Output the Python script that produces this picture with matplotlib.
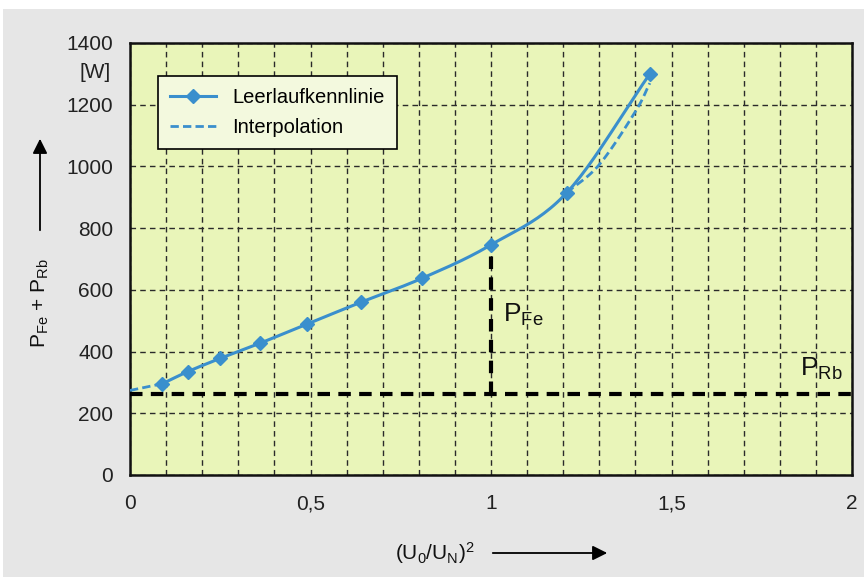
import numpy as np
import matplotlib
matplotlib.use("Agg")
import matplotlib.pyplot as plt
from matplotlib.patches import Rectangle
from matplotlib.lines import Line2D

plt.rcParams['font.family'] = ['Liberation Sans', 'DejaVu Sans']
plt.rcParams['mathtext.default'] = 'regular'

# ---- data ----
x_meas = [0.09, 0.16, 0.25, 0.36, 0.49, 0.64, 0.81, 1.00, 1.21, 1.44]
y_meas = [296, 335, 378, 427, 489, 560, 638, 746, 915, 1300]
interp_low_x = [0.0, 0.09]
interp_low_y = [274, 296]
interp_high_x = [1.21, 1.30, 1.40, 1.44]
interp_high_y = [915, 1006, 1178, 1270]
p_rb = 262
x_ticks = [0, 0.5, 1, 1.5, 2]
x_ticklabels = ['0', '0,5', '1', '1,5', '2']
y_ticks = [0, 200, 400, 600, 800, 1000, 1200, 1400]
legend_labels = ['Leerlaufkennlinie', 'Interpolation']

BLUE = '#3a8fcd'


def catmull_rom(xs, ys, n=24):
    xs = np.asarray(xs, float)
    ys = np.asarray(ys, float)
    P = np.column_stack([xs, ys])
    P = np.vstack([2 * P[0] - P[1], P, 2 * P[-1] - P[-2]])
    out = []
    t = np.linspace(0, 1, n, endpoint=False)[:, None]
    for i in range(1, len(P) - 2):
        p0, p1, p2, p3 = P[i - 1], P[i], P[i + 1], P[i + 2]
        seg = 0.5 * ((2 * p1) + (-p0 + p2) * t + (2 * p0 - 5 * p1 + 4 * p2 - p3) * t ** 2
                     + (-p0 + 3 * p1 - 3 * p2 + p3) * t ** 3)
        out.append(seg)
    out.append(P[-2][None, :])
    out = np.vstack(out)
    return out[:, 0], out[:, 1]


W, H = 867, 577
fig = plt.figure(figsize=(W / 100, H / 100), dpi=100, facecolor='white')
fig.patches.append(Rectangle((3 / W, 0), (864 - 3) / W, (577 - 9) / H,
                             transform=fig.transFigure, facecolor='#e6e6e6',
                             edgecolor='none', zorder=-10))

ax = fig.add_axes([130 / W, 1 - 475 / H, (852 - 130) / W, (475 - 43) / H])
ax.set_facecolor('#e9f5b9')
ax.set_xlim(0, 2)
ax.set_ylim(0, 1400)

ax.set_xticks(x_ticks)
ax.set_xticklabels(x_ticklabels)
ax.set_xticks(np.arange(0, 2.0001, 0.1), minor=True)
ax.set_yticks(y_ticks)
ax.tick_params(axis='both', which='both', length=0, labelsize=15, colors='#222222')
ax.tick_params(axis='x', pad=14)
ax.tick_params(axis='y', pad=12)

ax.grid(True, which='both', axis='x', color='#2a2a2a', linestyle=(0, (4, 3)), lw=1.0)
ax.grid(True, which='major', axis='y', color='#2a2a2a', linestyle=(0, (4, 3)), lw=1.0)
ax.set_axisbelow(True)
for s in ax.spines.values():
    s.set_linewidth(1.8)
    s.set_color('#111111')

# P_Rb and P_Fe dashed black lines
ax.axhline(p_rb, color='black', lw=3, linestyle=(0, (3, 2)), zorder=3)
ax.plot([x_meas[7], x_meas[7]], [p_rb, y_meas[7]], color='black', lw=3,
        linestyle=(0, (3, 2)), zorder=3)

# interpolation (dashed)
ax.plot(interp_low_x, interp_low_y, color=BLUE, lw=2, linestyle=(0, (3, 1.5)), zorder=4)
hx, hy = catmull_rom(interp_high_x, interp_high_y)
ax.plot(hx, hy, color=BLUE, lw=2, linestyle=(0, (3, 1.5)), zorder=4)

# measured curve
sx, sy = catmull_rom(x_meas, y_meas)
ax.plot(sx, sy, color=BLUE, lw=2.2, zorder=5)
ax.plot(x_meas, y_meas, linestyle='none', marker='D', ms=7.5, color=BLUE,
        markeredgecolor=BLUE, zorder=6)

# labels inside
ax.text(1.033, 520, r'$P_{Fe}$', fontsize=19, ha='left', va='center', color='#111111')
ax.text(1.856, 345, r'$P_{Rb}$', fontsize=19, ha='left', va='center', color='#111111')

# legend
handles = [Line2D([], [], color=BLUE, lw=2.2, marker='D', ms=7.5),
           Line2D([], [], color=BLUE, lw=2, linestyle=(0, (3, 1.5)))]
leg = ax.legend(handles, legend_labels, loc='upper left',
                bbox_to_anchor=((158 - 130) / 722, 1 - (76 - 43) / 432),
                fontsize=14.5, frameon=True, fancybox=False, handlelength=2.3,
                borderpad=0.6, labelspacing=0.55, handletextpad=0.8, borderaxespad=0)
leg.get_frame().set_facecolor('#f3f9de')
leg.get_frame().set_edgecolor('black')
leg.get_frame().set_linewidth(1.2)
leg.get_frame().set_alpha(1)

# unit
fig.text(95 / W, 1 - 73 / H, '[W]', fontsize=15, ha='center', va='center', color='#222222')

# axis labels and arrows
fig.text(40 / W, 1 - 303 / H, r'$P_{Fe}$ + $P_{Rb}$', rotation=90, fontsize=15,
         ha='center', va='center', color='#111111')
fig.text(435 / W, 1 - 553 / H, r'$(U_0/U_N)^2$', fontsize=15,
         ha='center', va='center', color='#111111')
fig.add_artist(matplotlib.patches.FancyArrowPatch(
    (40 / W, 1 - 233 / H), (40 / W, 1 - 136 / H), transform=fig.transFigure,
    arrowstyle='-|>', mutation_scale=22, color='black', lw=1.3))
fig.add_artist(matplotlib.patches.FancyArrowPatch(
    (490 / W, 1 - 553 / H), (610 / W, 1 - 553 / H), transform=fig.transFigure,
    arrowstyle='-|>', mutation_scale=22, color='black', lw=1.3))

fig.savefig('out.png', dpi=100, facecolor=fig.get_facecolor())
